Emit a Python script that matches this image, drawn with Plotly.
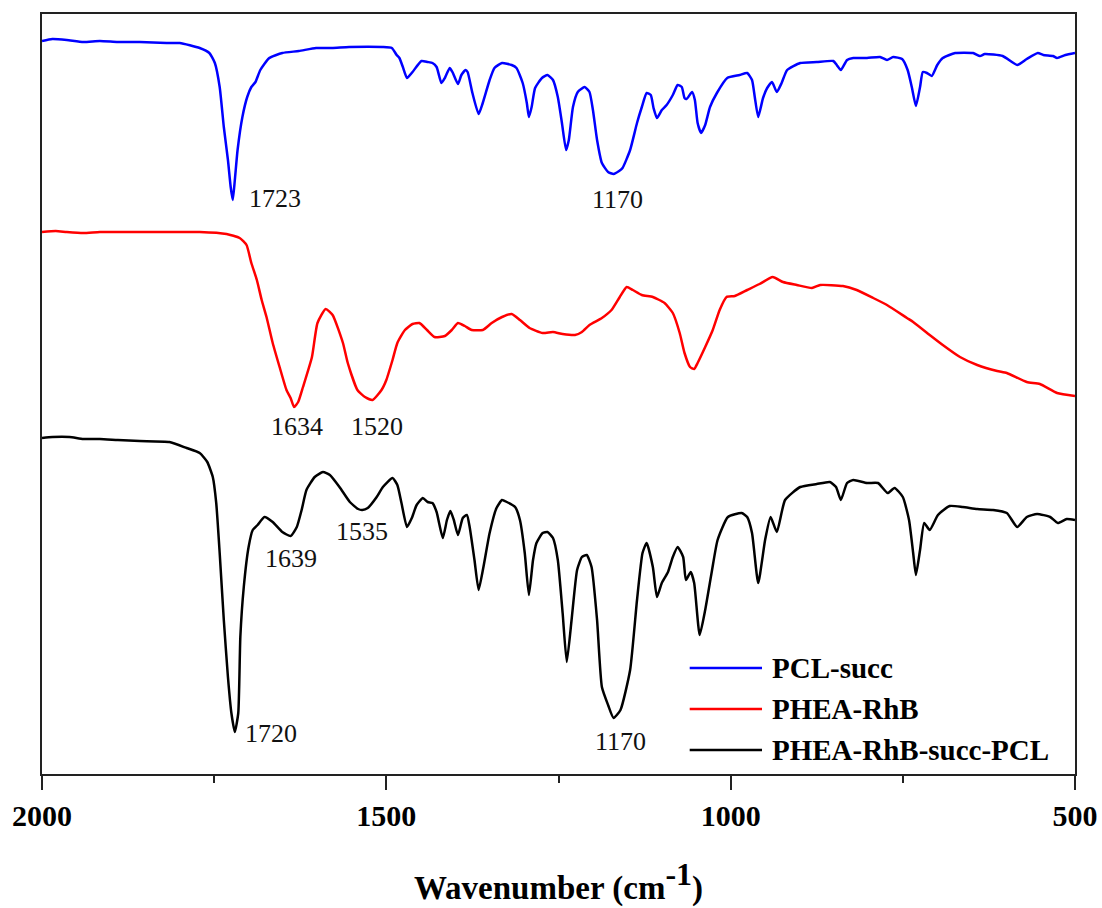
import plotly.graph_objects as go

# ---- FTIR spectra (wavenumber in cm^-1, transmittance in arbitrary units, offset per sample) ----
pcl_wn = [2000, 1985, 1964, 1940, 1916, 1890, 1858, 1819, 1800, 1771, 1757, 1749, 1742, 1736,
          1730, 1726, 1723, 1720, 1716, 1709, 1702, 1696, 1690, 1683, 1670, 1651, 1627, 1602,
          1579, 1554, 1506, 1492, 1485, 1481, 1476, 1470, 1462, 1449, 1440, 1433, 1427, 1420,
          1415, 1408, 1404, 1396, 1391, 1385, 1382, 1375, 1366, 1360, 1350, 1343, 1332, 1318,
          1311, 1302, 1296, 1293, 1289, 1284, 1274, 1266, 1258, 1251, 1245, 1239, 1235, 1229,
          1222, 1212, 1205, 1200, 1194, 1187, 1178, 1170, 1162, 1157, 1146, 1136, 1129, 1122,
          1116, 1112, 1107, 1100, 1093, 1084, 1077, 1071, 1067, 1064, 1056, 1052, 1048, 1043,
          1037, 1030, 1020, 1005, 987, 976, 969, 965, 960, 953, 947, 940, 933, 926, 918, 899,
          875, 851, 846, 840, 831, 822, 802, 783, 773, 764, 751, 743, 737, 731, 725, 721, 715,
          708, 700, 692, 674, 648, 638, 631, 605, 584, 570, 554, 546, 532, 526, 514, 500]
pcl_t = [73.3, 73.5, 73.4, 73.2, 73.3, 73.2, 73.2, 73.1, 73.1, 72.6, 72.1, 71.1, 68.7, 64.7,
         61.4, 58.7, 57.4, 59.4, 62.4, 65.7, 67.7, 68.7, 69.2, 70.4, 71.6, 72.1, 72.3, 72.6,
         72.6, 72.7, 72.7, 72.6, 71.9, 71.6, 70.7, 69.6, 70.2, 71.3, 71.2, 71.1, 70.7, 69.1,
         69.6, 70.6, 70.2, 69.0, 69.9, 70.4, 70.2, 68.1, 66.0, 67.1, 69.4, 70.6, 71.1, 70.9,
         70.6, 69.1, 67.1, 65.7, 66.7, 68.6, 69.6, 69.9, 69.4, 67.7, 65.1, 62.4, 63.4, 66.7,
         68.2, 68.7, 68.2, 66.4, 63.4, 61.1, 60.2, 60.0, 60.3, 60.6, 62.4, 65.1, 66.7, 68.1,
         67.9, 66.6, 65.6, 66.4, 66.9, 67.9, 68.9, 68.7, 67.6, 67.5, 68.2, 67.4, 65.1, 64.1,
         64.9, 66.7, 68.1, 69.6, 69.9, 70.1, 69.4, 67.7, 65.7, 67.6, 68.6, 69.2, 68.2, 69.1,
         70.4, 71.1, 71.2, 71.3, 70.9, 70.4, 71.4, 71.6, 71.6, 71.7, 71.4, 71.7, 71.5, 70.4,
         68.7, 66.8, 68.7, 70.2, 70.1, 69.8, 70.9, 71.6, 72.1, 72.1, 71.8, 72.0, 71.8, 70.9,
         71.5, 72.1, 71.9, 71.8, 71.6, 71.9, 72.1]

rhb_wn = [2000, 1980, 1964, 1940, 1916, 1880, 1844, 1800, 1771, 1732, 1713, 1703, 1696, 1688,
          1681, 1674, 1665, 1655, 1645, 1639, 1634, 1628, 1621, 1608, 1600, 1588, 1578, 1563,
          1556, 1542, 1531, 1520, 1507, 1500, 1491, 1484, 1473, 1462, 1452, 1441, 1430, 1415,
          1405, 1396, 1386, 1376, 1360, 1347, 1332, 1318, 1306, 1292, 1273, 1258, 1244, 1226,
          1216, 1205, 1187, 1173, 1161, 1151, 1142, 1129, 1113, 1096, 1084, 1074, 1067, 1059,
          1053, 1048, 1037, 1026, 1016, 1006, 994, 976, 958, 939, 924, 904, 882, 870, 837,
          817, 793, 773, 744, 735, 711, 692, 667, 642, 613, 599, 570, 551, 526, 500]
rhb_t = [54.2, 54.3, 54.2, 54.1, 54.2, 54.2, 54.2, 54.2, 54.2, 54.0, 53.6, 52.9, 51.1, 49.4,
         47.4, 45.7, 43.1, 40.7, 38.4, 37.6, 36.7, 37.2, 38.7, 41.7, 45.1, 46.5, 45.9, 43.1,
         41.1, 38.4, 37.7, 37.4, 38.4, 39.4, 41.4, 43.1, 44.4, 45.0, 45.1, 44.4, 43.7, 43.8,
         44.4, 45.1, 44.8, 44.4, 44.4, 45.1, 45.7, 46.0, 45.4, 44.6, 44.1, 44.2, 44.0, 43.9,
         44.2, 44.9, 45.6, 46.4, 47.7, 48.7, 48.4, 47.9, 47.7, 47.1, 46.1, 44.1, 42.1, 40.7,
         40.5, 41.1, 42.7, 44.4, 46.4, 47.7, 47.8, 48.4, 49.0, 49.7, 49.2, 48.9, 48.6, 48.9,
         48.8, 48.4, 47.6, 46.9, 45.6, 45.2, 43.9, 42.9, 41.7, 40.9, 40.3, 40.1, 39.2, 39.0,
         38.1, 37.8]

conj_wn = [2000, 1985, 1960, 1940, 1916, 1890, 1858, 1815, 1790, 1771, 1760, 1752, 1747, 1742,
           1736, 1730, 1725, 1720, 1715, 1712, 1707, 1700, 1694, 1687, 1677, 1665, 1651, 1639,
           1630, 1623, 1616, 1604, 1592, 1582, 1568, 1553, 1541, 1535, 1527, 1514, 1505, 1491,
           1484, 1478, 1470, 1463, 1456, 1447, 1440, 1433, 1427, 1418, 1412, 1407, 1402, 1396,
           1389, 1383, 1379, 1372, 1366, 1359, 1350, 1340, 1332, 1325, 1313, 1306, 1299, 1293,
           1287, 1282, 1273, 1266, 1258, 1251, 1244, 1238, 1231, 1223, 1216, 1209, 1202, 1194,
           1187, 1178, 1170, 1160, 1146, 1136, 1128, 1122, 1113, 1107, 1100, 1091, 1084, 1077,
           1069, 1065, 1058, 1053, 1045, 1037, 1027, 1019, 1004, 984, 976, 969, 960, 950, 942,
           933, 921, 899, 875, 856, 847, 840, 831, 822, 802, 786, 772, 762, 750, 741, 735, 731,
           725, 719, 711, 699, 682, 663, 642, 619, 599, 584, 570, 555, 536, 525, 512, 500]
conj_t = [33.6, 33.7, 33.7, 33.5, 33.5, 33.4, 33.3, 33.2, 32.6, 32.1, 31.2, 29.7, 27.1, 22.1,
          15.4, 9.7, 6.1, 4.2, 6.1, 13.7, 18.7, 22.7, 24.4, 24.9, 25.7, 25.2, 24.2, 23.8,
          24.7, 26.4, 28.4, 29.7, 30.2, 29.9, 28.7, 27.2, 26.5, 26.4, 26.6, 27.7, 28.7, 29.6,
          28.9, 27.1, 24.7, 25.6, 26.9, 27.6, 27.2, 27.1, 26.2, 23.6, 25.4, 26.3, 25.4, 23.9,
          25.6, 25.9, 24.7, 21.4, 18.4, 20.7, 24.1, 26.6, 27.4, 27.2, 26.7, 25.4, 22.1, 17.9,
          21.4, 23.1, 24.1, 24.2, 23.6, 21.4, 16.1, 11.2, 15.4, 20.4, 21.7, 21.9, 20.7, 15.4,
          8.7, 6.9, 5.6, 6.4, 10.4, 17.4, 22.1, 23.1, 20.7, 17.7, 19.1, 20.2, 21.7, 22.7,
          21.7, 19.4, 20.2, 19.1, 13.9, 16.4, 20.4, 23.4, 25.7, 26.1, 25.7, 24.1, 19.1, 23.4,
          25.7, 24.2, 27.4, 28.7, 29.0, 29.2, 28.7, 27.4, 29.1, 29.4, 29.1, 29.1, 28.1, 28.6,
          27.7, 25.4, 22.1, 19.9, 22.4, 25.1, 24.4, 25.9, 26.8, 26.7, 26.5, 26.4, 26.1, 24.7,
          25.7, 26.0, 25.7, 25.1, 25.5, 25.4]

series_names = ["PCL-succ", "PHEA-RhB", "PHEA-RhB-succ-PCL"]
series_colors = ["#0000FF", "#FF0000", "#000000"]

# peak labels: (text, wavenumber, transmittance)
peak_labels = [
    ("1723", 1662, 57.6),
    ("1170", 1165, 57.5),
    ("1634", 1630, 34.8),
    ("1520", 1514, 34.8),
    ("1639", 1638, 21.6),
    ("1535", 1536, 24.3),
    ("1720", 1667, 4.1),
    ("1170", 1160, 3.3),
]

x_ticks = [2000, 1500, 1000, 500]

SERIF = "Liberation Serif, Times New Roman, serif"

fig = go.Figure()
for name, color, xs, ys in zip(series_names, series_colors,
                               [pcl_wn, rhb_wn, conj_wn], [pcl_t, rhb_t, conj_t]):
    fig.add_trace(go.Scatter(x=xs, y=ys, mode="lines", name=name,
                             line=dict(color=color, width=2.5, shape="spline", smoothing=0.5),
                             showlegend=False))

for text, wn, t in peak_labels:
    fig.add_annotation(x=wn, y=t, xref="x", yref="y", text=text, showarrow=False,
                       font=dict(family=SERIF, size=26, color="#111111"))

# legend drawn as line samples with bold labels in the lower right
legend_rows = [0.1395, 0.0855, 0.0316]
for name, color, yy in zip(series_names, series_colors, legend_rows):
    fig.add_shape(type="line", xref="paper", yref="paper", x0=0.627, x1=0.697, y0=yy, y1=yy,
                  line=dict(color=color, width=2.5))
    fig.add_annotation(x=0.705, y=yy, xref="paper", yref="paper", text=name, showarrow=False,
                       xanchor="left", yanchor="middle",
                       font=dict(family=SERIF, size=29, color="#000000", weight="bold"))

fig.update_xaxes(
    range=[2000, 500], tickvals=x_ticks, ticktext=[str(v) for v in x_ticks],
    showline=True, linecolor="#222222", linewidth=2, mirror=True,
    ticks="outside", ticklen=14, tickwidth=1.5, tickcolor="#222222",
    minor=dict(dtick=250, ticks="outside", ticklen=7, tickwidth=1.5, tickcolor="#222222"),
    showgrid=False, zeroline=False, automargin=False,
    tickfont=dict(family=SERIF, size=30, color="#000000", weight="bold"),
    title=dict(text='Wavenumber (cm<sup><span style="font-size:32px">-1</span></sup>)',
               font=dict(family=SERIF, size=33, color="#000000", weight="bold"),
               standoff=45),
)
fig.update_yaxes(
    range=[0, 76], showline=True, linecolor="#222222", linewidth=2, mirror=True,
    showticklabels=False, ticks="", showgrid=False, zeroline=False, automargin=False,
)
fig.update_layout(
    width=1102, height=908,
    margin=dict(l=42, r=27, t=14, b=134),
    paper_bgcolor="white", plot_bgcolor="white",
    showlegend=False,
)

fig.write_html("out.html")
